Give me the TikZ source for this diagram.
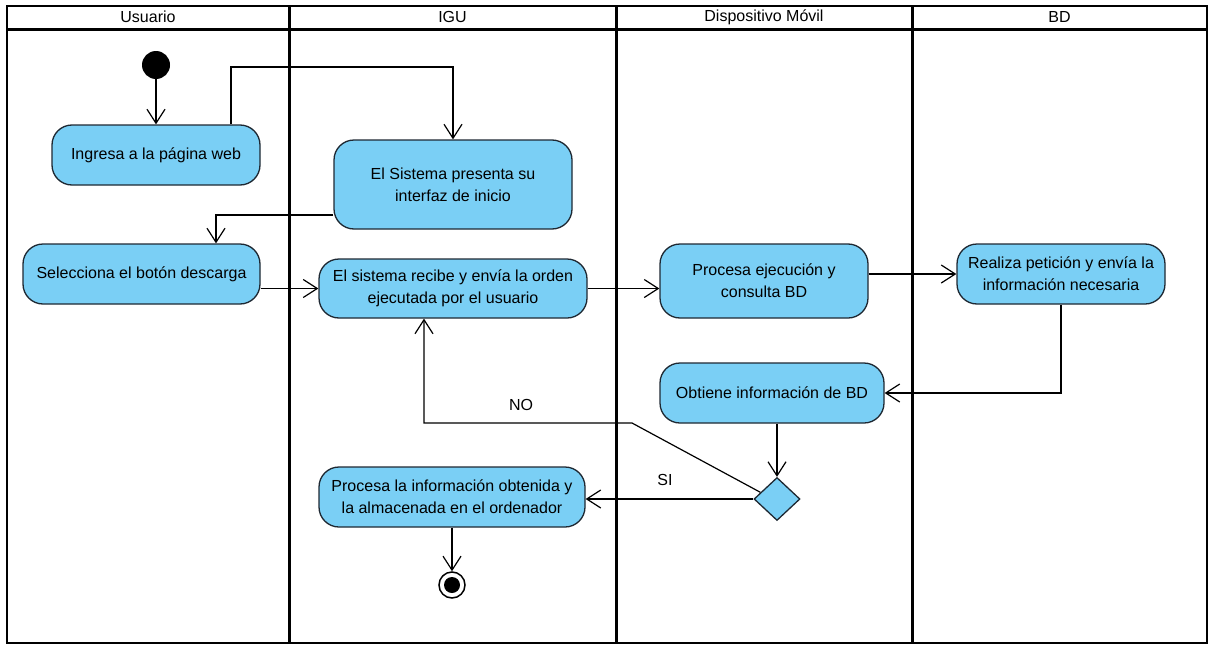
\documentclass[tikz,border=0pt]{standalone}
\usepackage{fontspec}
\setmainfont{Liberation Sans}
\usetikzlibrary{arrows.meta,shapes.geometric,calc}
\definecolor{actfill}{RGB}{122,207,245}
\definecolor{actdraw}{RGB}{30,40,50}
\begin{document}
\begin{tikzpicture}[x=1pt,y=-1pt,
  font=\fontsize{16}{22}\selectfont,
  act/.style={draw=actdraw,fill=actfill,line width=1.3pt,rounded corners=20pt,align=center,inner sep=0pt},
  arr/.style={line width=1.2pt,-{Straight Barb[length=14pt,width=18pt,line width=1.2pt]}},
  lane/.style={line width=3pt},
  frame/.style={line width=1.6pt},
  lbl/.style={inner sep=0pt}]
\useasboundingbox (0,0) rectangle (1210,645);
% swimlanes
\draw[frame] (7,6) rectangle (1207,643);
\draw[lane] (7,29) -- (1207,29);
\draw[lane] (289,6) -- (289,643);
\draw[lane] (616,6) -- (616,643);
\draw[lane] (912,6) -- (912,643);
\node[lbl] (h1) at (148,17) {Usuario};
\node[lbl] (h2) at (452.5,17) {IGU};
\node[lbl] (h3) at (764,17) {Dispositivo Móvil};
\node[lbl] (h4) at (1059.5,17) {BD};
% nodes
\node[circle,fill=black,minimum size=28pt,inner sep=0pt] (init) at (156,65) {};
\node[act,minimum width=208pt,minimum height=60pt] (ing) at (156,155) {Ingresa a la página web};
\node[act,minimum width=238pt,minimum height=89pt] (pres) at (453,184.5) {El Sistema presenta su\\interfaz de inicio};
\node[act,minimum width=237pt,minimum height=60pt] (sel) at (141.5,274) {Selecciona el botón descarga};
\node[act,minimum width=268pt,minimum height=59pt] (rec) at (453,288.5) {El sistema recibe y envía la orden\\ejecutada por el usuario};
\node[act,minimum width=208pt,minimum height=74pt] (proc) at (764,281) {Procesa ejecución y\\consulta BD};
\node[act,minimum width=208pt,minimum height=60pt] (real) at (1061,274) {Realiza petición y envía la\\información necesaria};
\node[act,minimum width=224pt,minimum height=60pt] (obt) at (772,393) {Obtiene información de BD};
\node[diamond,draw=actdraw,fill=actfill,line width=1.3pt,minimum width=46pt,minimum height=43pt,inner sep=0pt] (dec) at (777,499) {};
\node[act,minimum width=266pt,minimum height=60pt] (pinfo) at (452,497) {Procesa la información obtenida y\\la almacenada en el ordenador};
\node[circle,draw=black,fill=white,line width=1.5pt,minimum size=26pt,inner sep=0pt] (fin) at (452,585) {};
\node[circle,fill=black,minimum size=16pt,inner sep=0pt] (finin) at (fin) {};
% helper coordinates
\coordinate (c1) at (0,67);
\coordinate (cno) at (632,423);
% connectors
\draw[arr] (init) -- (init |- ing.north);
\draw[arr] ([xshift=75pt]ing.north) -- ([xshift=75pt]ing.north |- c1) -| (pres.north);
\draw[arr] ([yshift=-30.5pt]pres.west) -| ([xshift=74.5pt]sel.north);
\draw[arr] (sel.east |- rec.west) -- (rec.west);
\draw[arr] (rec.east) -- (rec.east -| proc.west);
\draw[arr] (proc.east |- real.west) -- (real.west);
\draw[arr] (real.south) |- (obt.east);
\draw[arr] (obt.south -| dec.north) -- (dec.north);
\draw[arr] (dec.west) -- (dec.west -| pinfo.east);
\draw[arr] ($(dec.west)!0.3!(dec.north)$) -- (cno) -| ([xshift=-29pt]rec.south);
\draw[arr] (pinfo.south) -- (fin.north);
\node[lbl] (no) at (521,405) {NO};
\node[lbl] (si) at (665,480) {SI};
\end{tikzpicture}
\end{document}
